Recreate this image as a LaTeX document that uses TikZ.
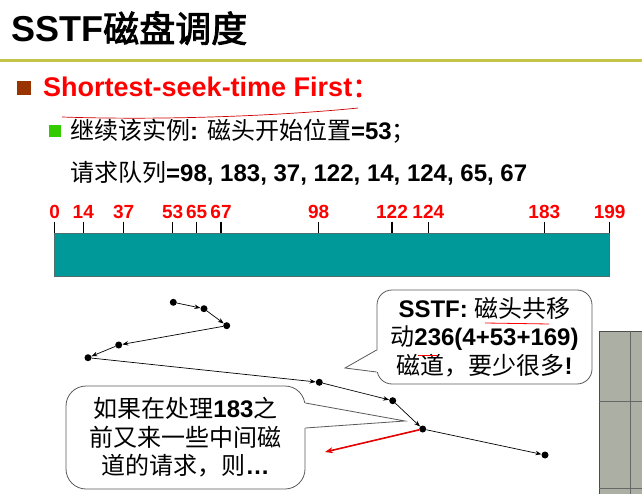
\documentclass[tikz,border=0pt]{standalone}
\usepackage{fontspec}
\setmainfont{Liberation Sans}
\newfontfamily\cjk{Noto Sans CJK SC}[AutoFakeBold=2.5]
\usetikzlibrary{arrows.meta}
\definecolor{hired}{RGB}{255,0,0}
\definecolor{olivebar}{RGB}{196,196,72}
\definecolor{bulletbrown}{RGB}{153,51,0}
\definecolor{bulletgreen}{RGB}{51,204,0}
\definecolor{barteal}{RGB}{0,153,153}
\definecolor{bargray}{RGB}{80,110,110}
\definecolor{bubblegray}{RGB}{90,90,90}
\definecolor{photocol}{RGB}{172,175,163}

\begin{document}
\begin{tikzpicture}[x=1pt,y=-1pt,
  txt/.style={anchor=base west,inner sep=0pt},
  pt/.style={circle,fill=black,inner sep=0pt,minimum size=7pt},
  seek/.style={-{Stealth[length=6pt,width=4.5pt]},line width=0.7pt},
  tickline/.style={line width=1.4pt},
  lbl/.style={text=hired,font=\fontsize{19}{19}\selectfont\bfseries,inner sep=0pt,anchor=base},
  bubble/.style={draw=bubblegray,fill=white,line width=0.8pt,rounded corners=15pt,align=center,inner sep=0pt,font=\fontsize{24}{28.5}\selectfont},
  beak/.style={draw=bubblegray,line width=0.8pt}]
\useasboundingbox (0,0) rectangle (642,494);

\fill[photocol] (599,331) rectangle (642,494);
\draw[black!70,line width=1pt] (599,494) -- (599,331) -- (642,331);
\draw[black!60,line width=0.8pt] (630,331) -- (630,494) (599,401.7) -- (642,401.7) (599,488) -- (642,488);

\node[txt,font=\fontsize{36}{40}\selectfont\bfseries] (title) at (11,42) {SSTF{\cjk 磁盘调度}};
\draw[olivebar,line width=3pt] (0,60.7) -- (642,60.7);

\node[fill=bulletbrown,minimum size=14pt,inner sep=0pt] (b1) at (24,88) {};
\node[txt,text=hired,font=\fontsize{27}{30}\selectfont\bfseries] (sub) at (43,97) {Shortest-seek-time First{\cjk ：}};
\draw[hired!80!black,line width=0.7pt] (62,117) .. controls (180,121) and (300,114) .. (358,108);

\node[fill=bulletgreen,minimum size=12pt,inner sep=0pt] (b2) at (55,131.5) {};
\node[txt,font=\fontsize{24}{28}\selectfont] (given) at (70,140) {{\cjk 继续该实例}\textbf{: }{\cjk 磁头开始位置}\textbf{=53}{\cjk ；}};
\node[txt,font=\fontsize{24}{28}\selectfont] (queue) at (70,182) {{\cjk 请求队列}\textbf{=98, 183, 37, 122, 14, 124, 65, 67}};

\draw[fill=barteal,draw=bargray,line width=0.8pt] (54.7,233.3) rectangle (609.7,276);
\foreach \v/\x in {0/54.7,14/83.3,37/123.7,53/172.7,65/196.7,67/221,98/318.7,122/392,124/428.3,183/544.3,199/609.7}{
  \draw[tickline] (\x,221.7) -- (\x,233.3);
  \node[lbl] (l\v) at (\x,218.4) {\v};
}

\node[pt] (s53) at (173.3,302.3) {};
\node[pt] (s65) at (204,308.7) {};
\node[pt] (s67) at (226.7,325.7) {};
\node[pt] (s37) at (118.7,345) {};
\node[pt] (s14) at (88,357.7) {};
\node[pt] (s98) at (319.3,382.3) {};
\node[pt] (s122) at (392.7,400.7) {};
\node[pt] (s124) at (422.7,429) {};
\node[pt] (s183) at (545,455) {};

\draw[seek] (s53) -- (s65);
\draw[seek] (s65) -- (s67);
\draw[seek] (s67) -- (s37);
\draw[seek] (s37) -- (s14);
\draw[seek] (s14) -- (s98);
\draw[seek] (s98) -- (s122);
\draw[seek] (s122) -- (s124);
\draw[seek] (s124) -- (s183);

\coordinate (newreq) at (325,452);
\draw[hired!90!black,line width=1.6pt,-{Stealth[length=8pt,width=6pt]}] (s124) -- (newreq);

\node[bubble,minimum width=215pt,minimum height=94pt] (sstf) at (484.5,337) {\textbf{SSTF:} {\cjk 磁头共移}\\{\cjk 动}\textbf{236(4+53+169)}\\{\cjk 磁道，要少很多}\textbf{!}};
\coordinate (tipA) at (345,368);
\fill[white] ([xshift=1.5pt,yshift=-13pt]sstf.west) -- (tipA) -- ([xshift=1.5pt,yshift=-35pt]sstf.west) -- cycle;
\draw[beak] ([yshift=-13pt]sstf.west) -- (tipA) -- ([yshift=-35pt]sstf.west);
\draw[hired,line width=0.8pt] (485,323) -- (549,324);
\draw[hired,line width=0.8pt] (418,355) -- (438,355);

\node[bubble,rounded corners=20pt,minimum width=239pt,minimum height=103pt] (ask) at (185.5,437.5) {{\cjk 如果在处理}\textbf{183}{\cjk 之}\\{\cjk 前又来一些中间磁}\\{\cjk 道的请求，则}\textbf{…}};
\coordinate (tipB) at (405,421);
\fill[white] ([xshift=-1.5pt,yshift=34.5pt]ask.east) -- (tipB) -- ([xshift=-1.5pt,yshift=9.5pt]ask.east) -- cycle;
\draw[beak] ([yshift=34.5pt]ask.east) -- (tipB) -- ([yshift=9.5pt]ask.east);
\end{tikzpicture}
\end{document}
